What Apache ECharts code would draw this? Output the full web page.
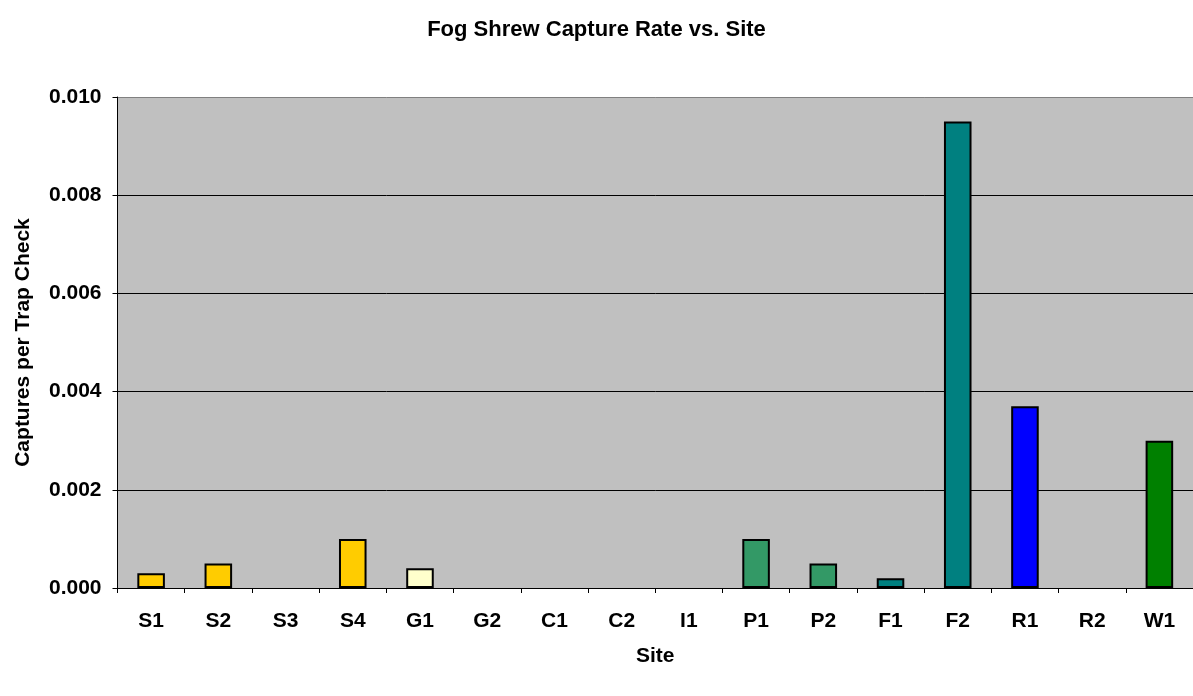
<!DOCTYPE html>
<html>
<head>
<meta charset="utf-8">
<script src="https://cdn.jsdelivr.net/npm/echarts@6/dist/echarts.min.js"></script>
<style>
html,body{margin:0;padding:0;background:#fff;}
#chart{width:1193px;height:696px;}
</style>
</head>
<body>
<div id="chart"></div>
<script>
const sites = ['S1','S2','S3','S4','G1','G2','C1','C2','I1','P1','P2','F1','F2','R1','R2','W1'];
const captureRates = [0.0003,0.0005,0,0.001,0.0004,0,0,0,0,0.001,0.0005,0.0002,0.0095,0.0037,0,0.003];
const yTicks = [0,0.002,0.004,0.006,0.008,0.010];

const barColors = ['#FFCC00','#FFCC00','#FFCC00','#FFCC00','#FFFFCC','#FFFFCC','#C0C0C0','#C0C0C0','#C0C0C0','#339966','#339966','#008080','#008080','#0000FF','#0000FF','#008000'];

const FONT = '"Liberation Sans", Arial, sans-serif';
const FS = 21;
const chart = echarts.init(document.getElementById('chart'), null, {renderer:'canvas'});
chart.setOption({
  animation:false,
  backgroundColor:'#ffffff',
  title:{
    text:'Fog Shrew Capture Rate vs. Site',
    left:'center', top:14,
    textStyle:{fontFamily:FONT,fontWeight:'bold',fontSize:22,color:'#000'}
  },
  grid:{
    left:117.5, top:97, width:1083, bottom:108,
    show:true, backgroundColor:'#C0C0C0', borderWidth:0
  },
  xAxis:{
    type:'category',
    data:sites,
    name:'Site',
    nameLocation:'middle',
    nameGap:58,
    nameTextStyle:{fontFamily:FONT,fontWeight:'bold',fontSize:FS,color:'#000'},
    axisLine:{show:true,lineStyle:{color:'#000',width:1}},
    axisTick:{show:true,alignWithLabel:false,length:5,lineStyle:{color:'#000'}},
    axisLabel:{margin:23,fontFamily:FONT,fontWeight:'bold',fontSize:FS,color:'#000',interval:0},
    splitLine:{show:false}
  },
  yAxis:{
    type:'value',
    min:yTicks[0], max:yTicks[yTicks.length-1], interval:0.002,
    name:'Captures per Trap Check',
    nameLocation:'middle',
    nameGap:84,
    nameTextStyle:{fontFamily:FONT,fontWeight:'bold',fontSize:FS,color:'#000'},
    axisLine:{show:true,lineStyle:{color:'#000',width:1}},
    axisTick:{show:true,length:5,lineStyle:{color:'#000'}},
    axisLabel:{margin:16,fontFamily:FONT,fontWeight:'bold',fontSize:FS,color:'#000',
      formatter:function(v){return v.toFixed(3);}},
    splitLine:{show:true,lineStyle:{color:['#000','#000','#000','#000','#000','#808080'],width:1}}
  },
  series:[{
    type:'bar',
    barWidth:'41%',
    data:captureRates.map(function(v,i){
      return {value:v,itemStyle:{color:barColors[i],borderColor:'#000',borderWidth:v>0?2:0,opacity:v>0?1:0}};
    })
  }]
});
</script>
</body>
</html>
